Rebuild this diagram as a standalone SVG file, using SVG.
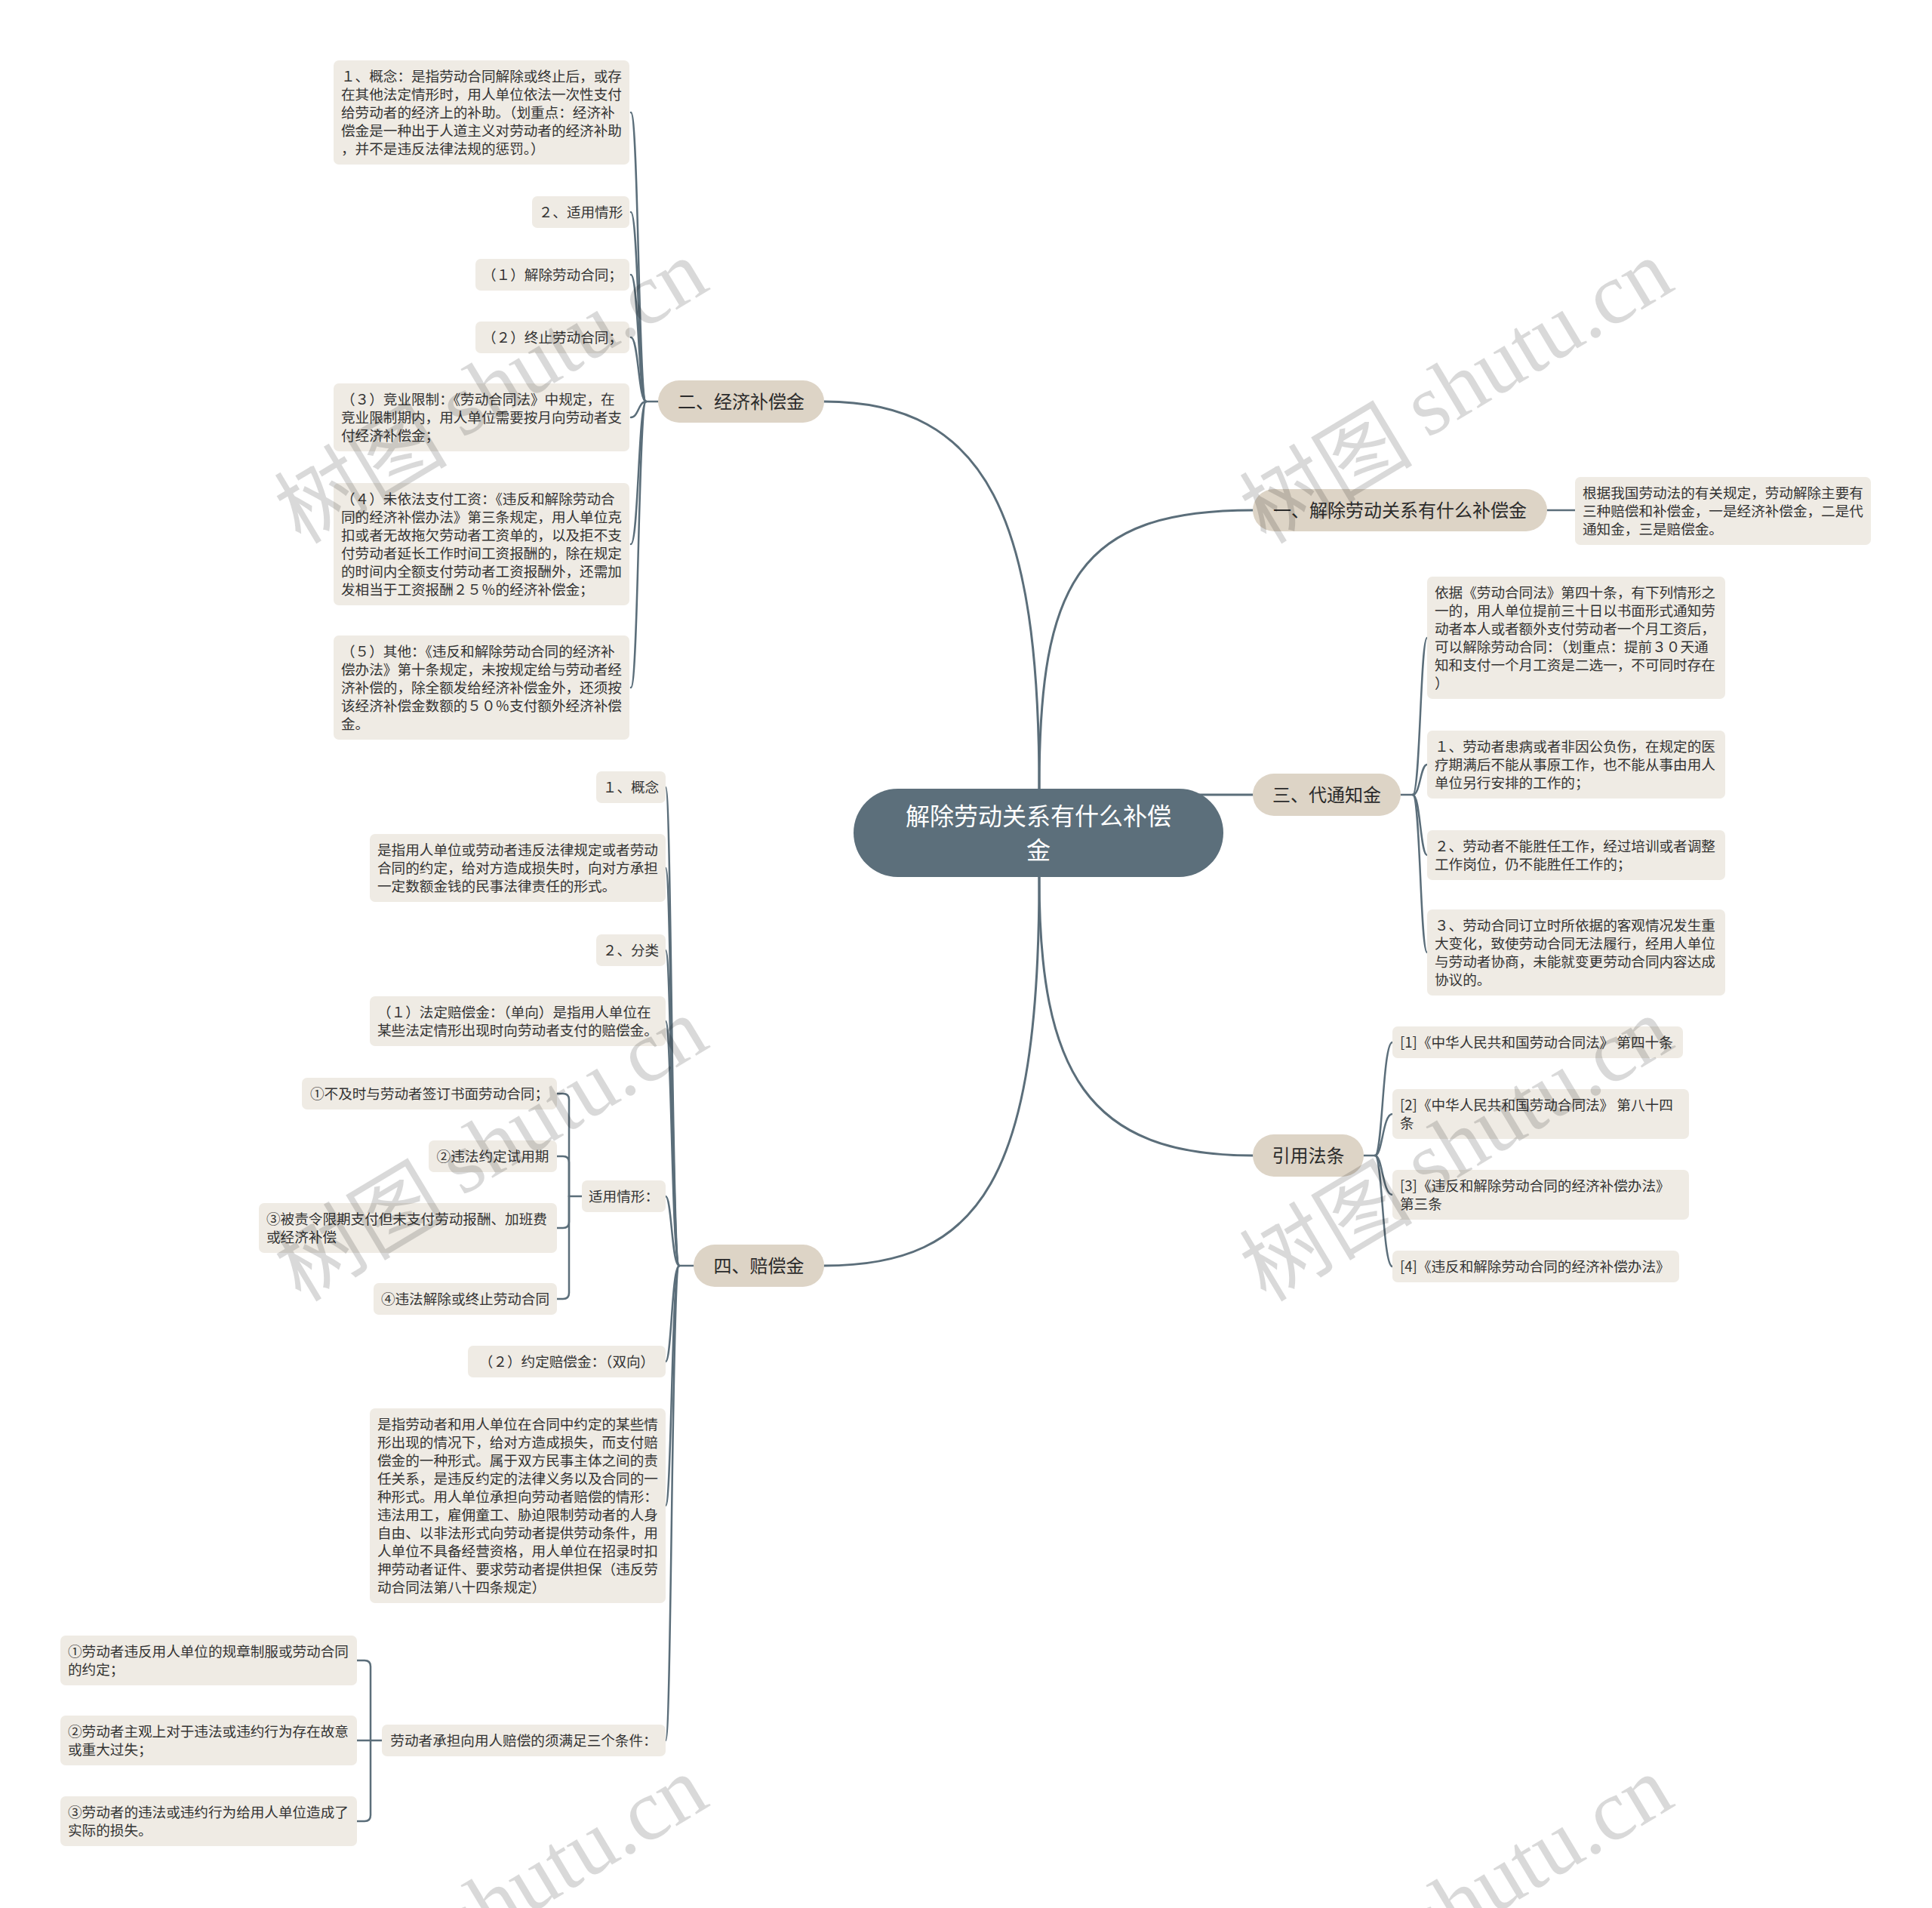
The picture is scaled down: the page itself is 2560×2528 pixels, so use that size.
<svg xmlns="http://www.w3.org/2000/svg" width="2560" height="2528" viewBox="0 0 2560 2528">
<style>
.leaf{fill:#efebe4}
.branch{fill:#ddd4c6}
.root{fill:#5c6f7b}
text{font-family:"Noto Sans CJK SC","Noto Sans",sans-serif;fill:#333}
.t{font-size:18.6px}
.m{text-anchor:middle}
.bt{font-size:24px;text-anchor:middle;fill:#2b2b2b}
.rt{font-size:32px;text-anchor:middle;fill:#ffffff}
.c{fill:none;stroke:#5b6e7a;stroke-width:2.5;stroke-linecap:round}
.cm{fill:none;stroke:#5b6e7a;stroke-width:3;stroke-linecap:round}
.wm{font-size:115px;fill:#000;fill-opacity:0.15;text-anchor:middle;dominant-baseline:central}
.wl{font-family:"Liberation Serif",serif}
</style>
<rect width="2560" height="2528" fill="#ffffff"/>
<g id="connectors">
<path class="cm" d="M1377,1045 C1377,770 1430,676 1660,676"/>
<path class="cm" d="M1377,1045 C1377,690 1310,532 1092,532"/>
<path class="cm" d="M1560,1053 L1660,1053"/>
<path class="cm" d="M1377,1162 C1377,1420 1440,1531 1660,1531"/>
<path class="cm" d="M1377,1162 C1377,1560 1300,1677 1092,1677"/>
<path class="c" d="M2050,676 H2087"/>
<path class="c" d="M872,532 H856"/>
<path class="c" d="M856,532 C846,532 846,149 836,149"/>
<path class="c" d="M856,532 C846,532 846,281 836,281"/>
<path class="c" d="M856,532 C846,532 846,364 836,364"/>
<path class="c" d="M856,532 C846,532 846,447 836,447"/>
<path class="c" d="M856,532 C846,532 846,553 836,553"/>
<path class="c" d="M856,532 C846,532 846,721 836,721"/>
<path class="c" d="M856,532 C846,532 846,911 836,911"/>
<path class="c" d="M1856,1053 H1872"/>
<path class="c" d="M1872,1053 C1882,1053 1882,845 1891,845"/>
<path class="c" d="M1872,1053 C1882,1053 1882,1013 1891,1013"/>
<path class="c" d="M1872,1053 C1882,1053 1882,1133 1891,1133"/>
<path class="c" d="M1872,1053 C1882,1053 1882,1262 1891,1262"/>
<path class="c" d="M1807,1531 H1822"/>
<path class="c" d="M1822,1531 C1832,1531 1832,1381 1845,1381"/>
<path class="c" d="M1822,1531 C1832,1531 1832,1476 1845,1476"/>
<path class="c" d="M1822,1531 C1832,1531 1832,1583 1845,1583"/>
<path class="c" d="M1822,1531 C1832,1531 1832,1678 1845,1678"/>
<path class="c" d="M919,1677 H900"/>
<path class="c" d="M900,1677 C890,1677 890,1043 882,1043"/>
<path class="c" d="M900,1677 C890,1677 890,1150 882,1150"/>
<path class="c" d="M900,1677 C890,1677 890,1259 882,1259"/>
<path class="c" d="M900,1677 C890,1677 890,1353 882,1353"/>
<path class="c" d="M900,1677 C890,1677 890,1585 882,1585"/>
<path class="c" d="M900,1677 C890,1677 890,1804 882,1804"/>
<path class="c" d="M900,1677 C890,1677 890,1995 882,1995"/>
<path class="c" d="M900,1677 C890,1677 890,2306 882,2306"/>
<path class="c" d="M754,1585 H771"/>
<path class="c" d="M738,1449 H746 Q754,1449 754,1457 V1585"/>
<path class="c" d="M738,1532 H746 Q754,1532 754,1540 V1585"/>
<path class="c" d="M738,1627 H746 Q754,1627 754,1619 V1585"/>
<path class="c" d="M738,1721 H746 Q754,1721 754,1713 V1585"/>
<path class="c" d="M491,2306 H506"/>
<path class="c" d="M473,2200 H483 Q491,2200 491,2208 V2306"/>
<path class="c" d="M473,2306 H491"/>
<path class="c" d="M473,2413 H483 Q491,2413 491,2405 V2306"/>
</g>
<g id="root-node"><rect class="root" x="1131" y="1045" width="490" height="117" rx="58.5"/><text class="rt"><tspan x="1376" y="1093">解除劳动关系有什么补偿</tspan><tspan x="1376" y="1138">金</tspan></text></g>

<g id="b1"><rect class="branch" x="1660" y="648" width="390" height="56" rx="28"/><text class="bt" x="1855" y="685">一、解除劳动关系有什么补偿金</text></g>
<g id="b1-1"><rect class="leaf" x="2087" y="632" width="392" height="90" rx="7"/><text class="t"><tspan x="2097" y="660">根据我国劳动法的有关规定，劳动解除主要有</tspan><tspan x="2097" dy="24">三种赔偿和补偿金，一是经济补偿金，二是代</tspan><tspan x="2097" dy="24">通知金，三是赔偿金。</tspan></text></g>

<g id="b2"><rect class="branch" x="872" y="504" width="220" height="56" rx="28"/><text class="bt" x="982" y="541">二、经济补偿金</text></g>
<g id="b2-1"><rect class="leaf" x="442" y="80" width="392" height="138" rx="7"/><text class="t"><tspan x="452" y="108">１、概念：是指劳动合同解除或终止后，或存</tspan><tspan x="452" dy="24">在其他法定情形时，用人单位依法一次性支付</tspan><tspan x="452" dy="24">给劳动者的经济上的补助。（划重点：经济补</tspan><tspan x="452" dy="24">偿金是一种出于人道主义对劳动者的经济补助</tspan><tspan x="452" dy="24">，并不是违反法律法规的惩罚。）</tspan></text></g>
<g id="b2-2"><rect class="leaf" x="705" y="260" width="129" height="42" rx="7"/><text class="t m" x="769.5" y="288">２、适用情形</text></g>
<g id="b2-3"><rect class="leaf" x="630" y="343" width="204" height="42" rx="7"/><text class="t m" x="732" y="371">（１）解除劳动合同；</text></g>
<g id="b2-4"><rect class="leaf" x="630" y="426" width="204" height="42" rx="7"/><text class="t m" x="732" y="454">（２）终止劳动合同；</text></g>
<g id="b2-5"><rect class="leaf" x="442" y="508" width="392" height="90" rx="7"/><text class="t"><tspan x="452" y="536">（３）竞业限制：《劳动合同法》中规定，在</tspan><tspan x="452" dy="24">竞业限制期内，用人单位需要按月向劳动者支</tspan><tspan x="452" dy="24">付经济补偿金；</tspan></text></g>
<g id="b2-6"><rect class="leaf" x="442" y="640" width="392" height="162" rx="7"/><text class="t"><tspan x="452" y="668">（４）未依法支付工资：《违反和解除劳动合</tspan><tspan x="452" dy="24">同的经济补偿办法》第三条规定，用人单位克</tspan><tspan x="452" dy="24">扣或者无故拖欠劳动者工资单的，以及拒不支</tspan><tspan x="452" dy="24">付劳动者延长工作时间工资报酬的，除在规定</tspan><tspan x="452" dy="24">的时间内全额支付劳动者工资报酬外，还需加</tspan><tspan x="452" dy="24">发相当于工资报酬２５％的经济补偿金；</tspan></text></g>
<g id="b2-7"><rect class="leaf" x="442" y="842" width="392" height="138" rx="7"/><text class="t"><tspan x="452" y="870">（５）其他：《违反和解除劳动合同的经济补</tspan><tspan x="452" dy="24">偿办法》第十条规定，未按规定给与劳动者经</tspan><tspan x="452" dy="24">济补偿的，除全额发给经济补偿金外，还须按</tspan><tspan x="452" dy="24">该经济补偿金数额的５０％支付额外经济补偿</tspan><tspan x="452" dy="24">金。</tspan></text></g>

<g id="b3"><rect class="branch" x="1660" y="1025" width="196" height="56" rx="28"/><text class="bt" x="1758" y="1062">三、代通知金</text></g>
<g id="b3-1"><rect class="leaf" x="1891" y="764" width="395" height="162" rx="7"/><text class="t"><tspan x="1901" y="792">依据《劳动合同法》第四十条，有下列情形之</tspan><tspan x="1901" dy="24">一的，用人单位提前三十日以书面形式通知劳</tspan><tspan x="1901" dy="24">动者本人或者额外支付劳动者一个月工资后，</tspan><tspan x="1901" dy="24">可以解除劳动合同：（划重点：提前３０天通</tspan><tspan x="1901" dy="24">知和支付一个月工资是二选一，不可同时存在</tspan><tspan x="1901" dy="24">）</tspan></text></g>
<g id="b3-2"><rect class="leaf" x="1891" y="968" width="395" height="90" rx="7"/><text class="t"><tspan x="1901" y="996">１、劳动者患病或者非因公负伤，在规定的医</tspan><tspan x="1901" dy="24">疗期满后不能从事原工作，也不能从事由用人</tspan><tspan x="1901" dy="24">单位另行安排的工作的；</tspan></text></g>
<g id="b3-3"><rect class="leaf" x="1891" y="1100" width="395" height="66" rx="7"/><text class="t"><tspan x="1901" y="1128">２、劳动者不能胜任工作，经过培训或者调整</tspan><tspan x="1901" dy="24">工作岗位，仍不能胜任工作的；</tspan></text></g>
<g id="b3-4"><rect class="leaf" x="1891" y="1205" width="395" height="114" rx="7"/><text class="t"><tspan x="1901" y="1233">３、劳动合同订立时所依据的客观情况发生重</tspan><tspan x="1901" dy="24">大变化，致使劳动合同无法履行，经用人单位</tspan><tspan x="1901" dy="24">与劳动者协商，未能就变更劳动合同内容达成</tspan><tspan x="1901" dy="24">协议的。</tspan></text></g>

<g id="b5"><rect class="branch" x="1660" y="1503" width="147" height="56" rx="28"/><text class="bt" x="1733.5" y="1540">引用法条</text></g>
<g id="b5-1"><rect class="leaf" x="1845" y="1360" width="385" height="42" rx="7"/><text class="t" x="1855" y="1388">[1]《中华人民共和国劳动合同法》 第四十条</text></g>
<g id="b5-2"><rect class="leaf" x="1845" y="1443" width="393" height="66" rx="7"/><text class="t"><tspan x="1855" y="1471">[2]《中华人民共和国劳动合同法》 第八十四</tspan><tspan x="1855" dy="24">条</tspan></text></g>
<g id="b5-3"><rect class="leaf" x="1845" y="1550" width="393" height="66" rx="7"/><text class="t"><tspan x="1855" y="1578">[3]《违反和解除劳动合同的经济补偿办法》</tspan><tspan x="1855" dy="24">第三条</tspan></text></g>
<g id="b5-4"><rect class="leaf" x="1845" y="1657" width="380" height="42" rx="7"/><text class="t" x="1855" y="1685">[4]《违反和解除劳动合同的经济补偿办法》</text></g>

<g id="b4"><rect class="branch" x="919" y="1649" width="173" height="56" rx="28"/><text class="bt" x="1005.5" y="1686">四、赔偿金</text></g>
<g id="b4-1"><rect class="leaf" x="790" y="1022" width="92" height="42" rx="7"/><text class="t m" x="836" y="1050">１、概念</text></g>
<g id="b4-2"><rect class="leaf" x="490" y="1105" width="392" height="90" rx="7"/><text class="t"><tspan x="500" y="1133">是指用人单位或劳动者违反法律规定或者劳动</tspan><tspan x="500" dy="24">合同的约定，给对方造成损失时，向对方承担</tspan><tspan x="500" dy="24">一定数额金钱的民事法律责任的形式。</tspan></text></g>
<g id="b4-3"><rect class="leaf" x="790" y="1238" width="92" height="42" rx="7"/><text class="t m" x="836" y="1266">２、分类</text></g>
<g id="b4-4"><rect class="leaf" x="490" y="1320" width="392" height="66" rx="7"/><text class="t"><tspan x="500" y="1348">（１）法定赔偿金：（单向）是指用人单位在</tspan><tspan x="500" dy="24">某些法定情形出现时向劳动者支付的赔偿金。</tspan></text></g>
<g id="b4-5"><rect class="leaf" x="771" y="1564" width="111" height="42" rx="7"/><text class="t m" x="826.5" y="1592">适用情形：</text></g>
<g id="b4-5-1"><rect class="leaf" x="400" y="1428" width="338" height="42" rx="7"/><text class="t m" x="569" y="1456">①不及时与劳动者签订书面劳动合同；</text></g>
<g id="b4-5-2"><rect class="leaf" x="568" y="1511" width="170" height="42" rx="7"/><text class="t m" x="653" y="1539">②违法约定试用期</text></g>
<g id="b4-5-3"><rect class="leaf" x="343" y="1594" width="395" height="66" rx="7"/><text class="t"><tspan x="353" y="1622">③被责令限期支付但未支付劳动报酬、加班费</tspan><tspan x="353" dy="24">或经济补偿</tspan></text></g>
<g id="b4-5-4"><rect class="leaf" x="495" y="1700" width="243" height="42" rx="7"/><text class="t m" x="616.5" y="1728">④违法解除或终止劳动合同</text></g>
<g id="b4-6"><rect class="leaf" x="620" y="1783" width="262" height="42" rx="7"/><text class="t m" x="751" y="1811">（２）约定赔偿金：（双向）</text></g>
<g id="b4-7"><rect class="leaf" x="490" y="1866" width="392" height="258" rx="7"/><text class="t"><tspan x="500" y="1894">是指劳动者和用人单位在合同中约定的某些情</tspan><tspan x="500" dy="24">形出现的情况下，给对方造成损失，而支付赔</tspan><tspan x="500" dy="24">偿金的一种形式。属于双方民事主体之间的责</tspan><tspan x="500" dy="24">任关系，是违反约定的法律义务以及合同的一</tspan><tspan x="500" dy="24">种形式。用人单位承担向劳动者赔偿的情形：</tspan><tspan x="500" dy="24">违法用工，雇佣童工、胁迫限制劳动者的人身</tspan><tspan x="500" dy="24">自由、以非法形式向劳动者提供劳动条件，用</tspan><tspan x="500" dy="24">人单位不具备经营资格，用人单位在招录时扣</tspan><tspan x="500" dy="24">押劳动者证件、要求劳动者提供担保（违反劳</tspan><tspan x="500" dy="24">动合同法第八十四条规定）</tspan></text></g>
<g id="b4-8"><rect class="leaf" x="506" y="2285" width="376" height="42" rx="7"/><text class="t m" x="694" y="2313">劳动者承担向用人赔偿的须满足三个条件：</text></g>
<g id="b4-8-1"><rect class="leaf" x="80" y="2167" width="393" height="66" rx="7"/><text class="t"><tspan x="90" y="2195">①劳动者违反用人单位的规章制服或劳动合同</tspan><tspan x="90" dy="24">的约定；</tspan></text></g>
<g id="b4-8-2"><rect class="leaf" x="80" y="2273" width="393" height="66" rx="7"/><text class="t"><tspan x="90" y="2301">②劳动者主观上对于违法或违约行为存在故意</tspan><tspan x="90" dy="24">或重大过失；</tspan></text></g>
<g id="b4-8-3"><rect class="leaf" x="80" y="2380" width="393" height="66" rx="7"/><text class="t"><tspan x="90" y="2408">③劳动者的违法或违约行为给用人单位造成了</tspan><tspan x="90" dy="24">实际的损失。</tspan></text></g>

<g id="watermark">
<text class="wm" transform="translate(648,514) rotate(-31)">树图 <tspan class="wl">shutu.cn</tspan></text>
<text class="wm" transform="translate(1927,514) rotate(-31)">树图 <tspan class="wl">shutu.cn</tspan></text>
<text class="wm" transform="translate(648,1518) rotate(-31)">树图 <tspan class="wl">shutu.cn</tspan></text>
<text class="wm" transform="translate(1927,1518) rotate(-31)">树图 <tspan class="wl">shutu.cn</tspan></text>
<text class="wm" transform="translate(648,2523) rotate(-31)">树图 <tspan class="wl">shutu.cn</tspan></text>
<text class="wm" transform="translate(1927,2523) rotate(-31)">树图 <tspan class="wl">shutu.cn</tspan></text>
</g>
</svg>
